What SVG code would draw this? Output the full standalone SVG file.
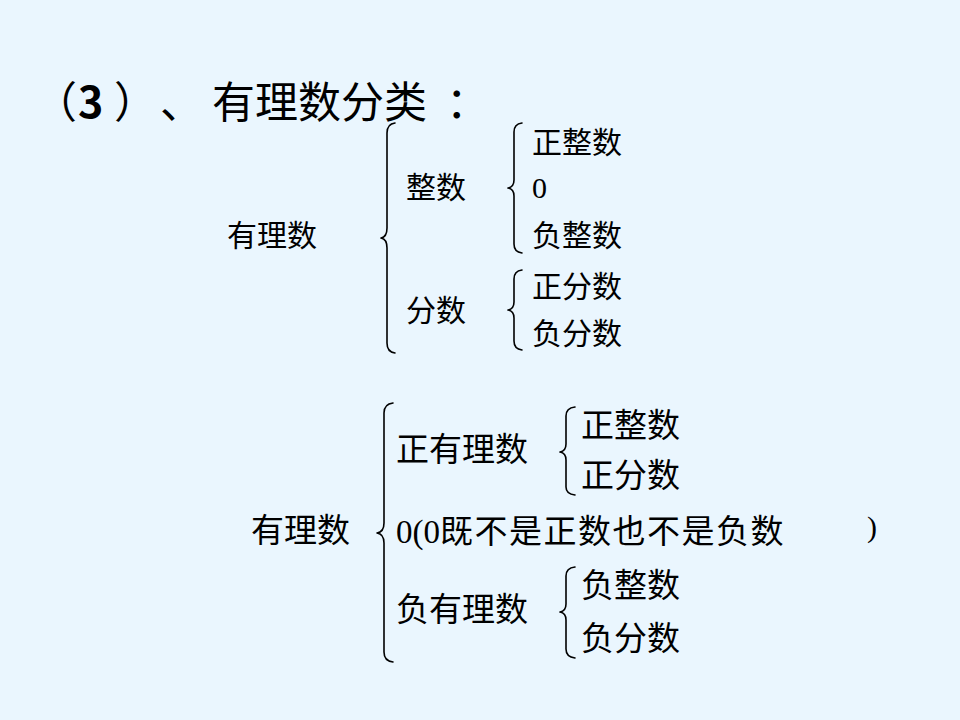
<svg xmlns="http://www.w3.org/2000/svg" width="960" height="720" viewBox="0 0 960 720">
<style>
.t{font-family:"Liberation Serif","Noto Sans CJK SC",serif;fill:#000}
.s{font-size:30px}
.b{font-size:33px}
.title{font-family:"Noto Sans CJK SC","Liberation Sans",sans-serif;font-size:43px;fill:#000}
.br{fill:none;stroke:#000;stroke-width:1.6;stroke-linecap:round;stroke-linejoin:round}
</style>
<rect width="960" height="720" fill="#EAF6FE"/>
<g id="title">
<text class="title" y="118"><tspan x="34">（</tspan><tspan x="78" font-weight="bold">3</tspan><tspan x="114">）</tspan><tspan x="160">、</tspan><tspan x="212 255 298 341 384">有理数分类</tspan><tspan x="446">：</tspan></text>
</g>
<g id="connectors">
<path class="br" d="M395,123 Q387,124 387,133 L387,228 Q387,237 381,238 Q387,239 387,248 L387,343 Q387,352 395,353"/>
<path class="br" d="M522,123 Q514,124 514,132 L514,180 Q514,187 508,188 Q514,189 514,196 L514,244 Q514,252 522,253"/>
<path class="br" d="M522,270 Q514,271 514,279 L514,302 Q514,309 508,310 Q514,311 514,318 L514,341 Q514,349 522,350"/>
<path class="br" d="M393,403 Q384,404 384,413 L384,523 Q384,532 377,533 Q384,534 384,543 L384,652 Q384,661 393,662"/>
<path class="br" d="M575,407 Q566,408 566,416 L566,444 Q566,451 560,452 Q566,453 566,460 L566,487 Q566,494 575,495"/>
<path class="br" d="M575,567 Q566,568 566,576 L566,604 Q566,611 560,612 Q566,613 566,620 L566,649 Q566,657 575,658"/>
</g>
<g id="n-rational-1"><text class="t s" x="227" y="246">有理数</text></g>
<g id="n-integer"><text class="t s" x="406" y="198">整数</text></g>
<g id="n-fraction"><text class="t s" x="406" y="321">分数</text></g>
<g id="n-pos-int-1"><text class="t s" x="532" y="153">正整数</text></g>
<g id="n-zero-1"><text class="t s" x="532" y="198">0</text></g>
<g id="n-neg-int-1"><text class="t s" x="532" y="246">负整数</text></g>
<g id="n-pos-frac-1"><text class="t s" x="532" y="297">正分数</text></g>
<g id="n-neg-frac-1"><text class="t s" x="532" y="344">负分数</text></g>
<g id="n-rational-2"><text class="t b" x="251" y="542">有理数</text></g>
<g id="n-pos-rational"><text class="t b" x="396" y="461">正有理数</text></g>
<g id="n-zero-2"><text class="t b" y="543"><tspan x="396">0(0</tspan><tspan letter-spacing="1.5">既不是正数也不是负数</tspan><tspan x="867" font-size="30" dy="-6">)</tspan></text></g>
<g id="n-neg-rational"><text class="t b" x="396" y="621">负有理数</text></g>
<g id="n-pos-int-2"><text class="t b" x="581" y="437">正整数</text></g>
<g id="n-pos-frac-2"><text class="t b" x="581" y="487">正分数</text></g>
<g id="n-neg-int-2"><text class="t b" x="581" y="597">负整数</text></g>
<g id="n-neg-frac-2"><text class="t b" x="581" y="650">负分数</text></g>
</svg>
